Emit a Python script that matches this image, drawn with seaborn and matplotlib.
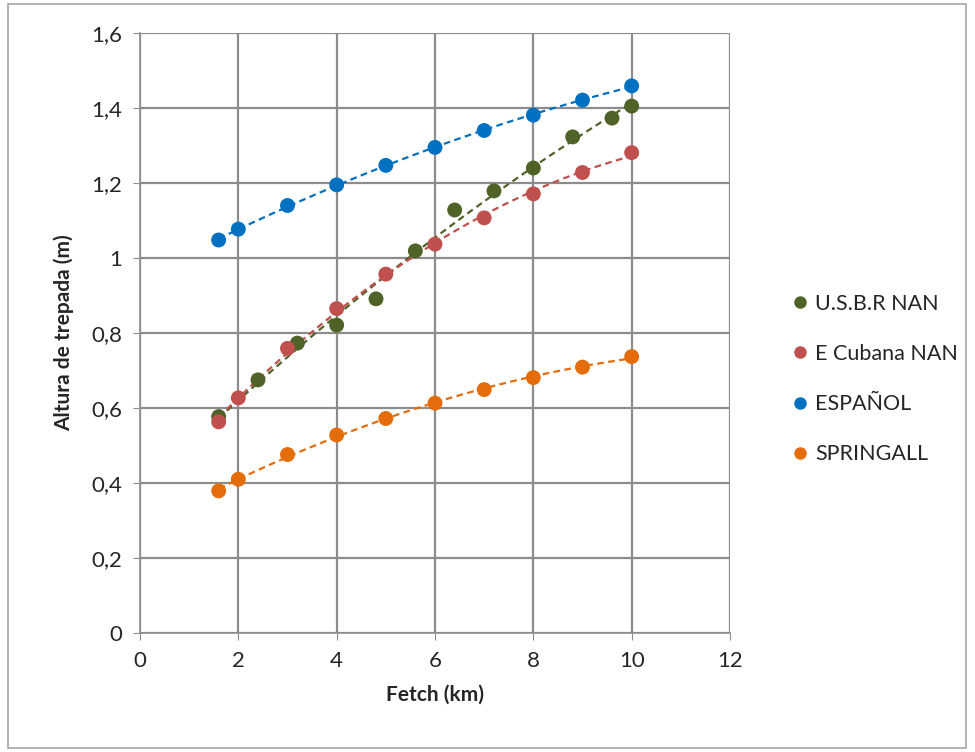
import numpy as np
import pandas as pd
import matplotlib
matplotlib.use("Agg")
import matplotlib.pyplot as plt
from matplotlib.ticker import FuncFormatter
from matplotlib.lines import Line2D
from matplotlib.patches import Rectangle
import seaborn as sns

sns.set_style("white")
plt.rcParams['font.family'] = ['Lato', 'DejaVu Sans']

usbr_x = [1.6, 2.4, 3.2, 4.0, 4.8, 5.6, 6.4, 7.2, 8.0, 8.8, 9.6, 10.0]
usbr_y = [0.577, 0.675, 0.773, 0.821, 0.891, 1.019, 1.128, 1.179, 1.240, 1.323, 1.373, 1.405]
fx = [1.6, 2, 3, 4, 5, 6, 7, 8, 9, 10]
cubana_y = [0.563, 0.627, 0.759, 0.865, 0.957, 1.037, 1.107, 1.171, 1.228, 1.281]
espanol_y = [1.048, 1.077, 1.140, 1.195, 1.247, 1.295, 1.340, 1.381, 1.421, 1.459]
springall_y = [0.379, 0.410, 0.476, 0.528, 0.572, 0.613, 0.649, 0.681, 0.709, 0.737]

names = ["U.S.B.R NAN", "E Cubana NAN", "ESPAÑOL", "SPRINGALL"]
colors = ["#4f6228", "#c0504d", "#0070c0", "#e46c0a"]
series = [(usbr_x, usbr_y), (fx, cubana_y), (fx, espanol_y), (fx, springall_y)]

fig = plt.figure(figsize=(9.75, 7.52), dpi=100)
ax = fig.add_axes([140/975, 1-633/752, (730-140)/975, (633-33)/752])

for (x, y), c, n in zip(series, colors, names):
    df = pd.DataFrame({"x": x, "y": y})
    sns.regplot(data=df, x="x", y="y", order=2, ci=None, ax=ax,
                scatter_kws=dict(s=115, color=c, edgecolor='none', alpha=1, zorder=4),
                line_kws=dict(color=c, lw=1.6, ls=(0, (3, 2)), zorder=3))

ax.set_xlim(0, 12)
ax.set_ylim(0, 1.6)
ax.set_xticks(np.arange(0, 13, 2))
ax.set_yticks(np.arange(0, 1.61, 0.2))

def fmt(v, pos):
    s = ("%.1f" % v).rstrip('0').rstrip('.')
    return s.replace('.', ',')
ax.yaxis.set_major_formatter(FuncFormatter(fmt))
ax.xaxis.set_major_formatter(FuncFormatter(lambda v, p: "%d" % v))

ax.grid(True, color="#8c8c8c", lw=1.6)
ax.set_axisbelow(True)
for s in ["top", "right"]:
    ax.spines[s].set_visible(False)
for s in ["left", "bottom"]:
    ax.spines[s].set_color("#8c8c8c")
    ax.spines[s].set_linewidth(1.2)
ax.tick_params(axis='both', which='both', direction='out', length=5, color="#8c8c8c",
               labelsize=16, pad=8, left=True, bottom=True)
ax.set_xlabel("Fetch (km)", fontsize=15, fontweight='bold', labelpad=10)
ax.set_ylabel("Altura de trepada (m)", fontsize=15, fontweight='bold', labelpad=12)

handles = [Line2D([], [], ls='none', marker='o', markersize=9, color=c, markeredgecolor='none') for c in colors]
fig.legend(handles, names, loc='center left', bbox_to_anchor=(781/975, 1-379/752),
           frameon=False, fontsize=15.5, handletextpad=0.2, labelspacing=1.4,
           handlelength=1.0, borderaxespad=0)

fig.patches.append(Rectangle((8/975, 4/752), (966-8)/975, (748-4)/752,
                             transform=fig.transFigure, fill=False,
                             edgecolor="#a6a6a6", lw=1.2))

fig.savefig("out.png", dpi=100)
